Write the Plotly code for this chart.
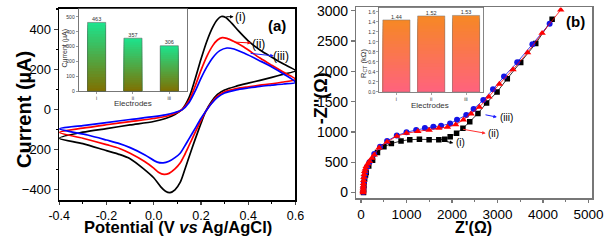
import plotly.graph_objects as go

# ---------------- Panel (a): cyclic voltammograms ----------------
V_i_fwd = [-0.4, -0.3, -0.2, -0.1, 0.0, 0.05, 0.09, 0.12, 0.15, 0.175, 0.2, 0.225, 0.25, 0.27, 0.286, 0.305, 0.33, 0.36, 0.4, 0.45, 0.5, 0.55, 0.6]
I_i_fwd = [-143, -113, -95, -77, -60, -45, -25, 0, 60, 150, 250, 340, 410, 448, 463, 458, 430, 390, 342, 296, 260, 226, 193]
V_i_rev = [0.55, 0.5, 0.45, 0.4, 0.35, 0.3, 0.27, 0.245, 0.22, 0.2, 0.175, 0.15, 0.13, 0.112, 0.09, 0.069, 0.05, 0.03, 0.0, -0.04, -0.1, -0.15, -0.2, -0.3, -0.4]
I_i_rev = [176, 160, 145, 131, 116, 97, 75, 40, -10, -70, -150, -235, -305, -363, -400, -414, -407, -385, -340, -298, -245, -222, -205, -170, -143]

V_ii_fwd = [-0.4, -0.3, -0.2, -0.1, 0.0, 0.05, 0.09, 0.12, 0.15, 0.175, 0.2, 0.225, 0.25, 0.27, 0.29, 0.31, 0.34, 0.38, 0.45, 0.5, 0.55, 0.6]
I_ii_fwd = [-114, -93, -76, -60, -45, -35, -20, 0, 45, 115, 195, 265, 318, 346, 358, 354, 338, 312, 256, 220, 185, 150]
V_ii_rev = [0.55, 0.5, 0.45, 0.4, 0.35, 0.3, 0.27, 0.245, 0.22, 0.2, 0.175, 0.15, 0.13, 0.112, 0.09, 0.065, 0.044, 0.02, 0.0, -0.04, -0.1, -0.145, -0.2, -0.3, -0.4]
I_ii_rev = [137, 128, 121, 113, 104, 88, 66, 33, -10, -55, -115, -178, -228, -267, -296, -318, -323, -312, -292, -258, -218, -194, -175, -143, -114]

V_iii_fwd = [-0.4, -0.3, -0.2, -0.1, 0.0, 0.05, 0.09, 0.12, 0.15, 0.175, 0.2, 0.225, 0.25, 0.28, 0.31, 0.34, 0.38, 0.45, 0.5, 0.55, 0.6]
I_iii_fwd = [-96, -80, -65, -50, -36, -27, -15, -2, 35, 90, 155, 212, 258, 293, 306, 301, 282, 242, 212, 177, 135]
V_iii_rev = [0.55, 0.5, 0.45, 0.4, 0.35, 0.3, 0.27, 0.245, 0.22, 0.2, 0.175, 0.15, 0.13, 0.112, 0.09, 0.065, 0.04, 0.015, -0.037, -0.1, -0.145, -0.2, -0.28, -0.4]
I_iii_rev = [127, 121, 115, 107, 98, 82, 60, 30, -10, -45, -95, -145, -185, -218, -240, -258, -266, -262, -226, -190, -170, -152, -127, -96]

# inset (a): peak currents
electrodes = ["i", "ii", "iii"]
peak_current = [463, 357, 306]

# ---------------- Panel (b): Nyquist plots ----------------
Zr_i = [55, 58, 64, 70, 80, 100, 114, 170, 255, 362, 504, 667, 880, 1072, 1284, 1497, 1710, 1840, 1960, 2100, 2240, 2390, 2570, 2760, 2990, 3215, 3510, 3840, 4200]
Zi_i = [0, 60, 117, 170, 223, 290, 330, 436, 532, 660, 755, 809, 851, 873, 878, 873, 873, 880, 920, 980, 1060, 1170, 1305, 1480, 1660, 1880, 2145, 2460, 2860]

Zr_iii = [50, 55, 62, 75, 95, 130, 185, 291, 419, 574, 787, 1000, 1213, 1404, 1590, 1760, 1958, 2110, 2313, 2475, 2688, 2901, 3143, 3433, 3767, 4145]
Zi_iii = [10, 80, 160, 250, 330, 420, 500, 638, 755, 851, 941, 995, 1032, 1064, 1085, 1101, 1138, 1200, 1280, 1378, 1527, 1703, 1915, 2150, 2447, 2788]

Zr_ii = [45, 46, 47, 49, 51, 54, 58, 63, 70, 80, 95, 114, 150, 185, 240, 291, 397, 574, 787, 1000, 1250, 1497, 1710, 1900, 2080, 2250, 2420, 2600, 2810, 3040, 3340, 3660, 3980, 4390]
Zi_ii = [0, 20, 45, 75, 110, 150, 200, 250, 300, 350, 390, 430, 475, 516, 570, 622, 739, 835, 931, 979, 1011, 1032, 1064, 1080, 1120, 1200, 1300, 1410, 1580, 1790, 2030, 2310, 2630, 3015]

# inset (b): charge-transfer resistance
rct = [1.44, 1.52, 1.53]
rct_labels = ["1.44", "1.52", "1.53"]

FONT = "Arial, Liberation Sans, sans-serif"
fig = go.Figure()

# CV curves
for V1, I1, V2, I2, col in [
    (V_i_fwd, I_i_fwd, V_i_rev, I_i_rev, "#000000"),
    (V_ii_fwd, I_ii_fwd, V_ii_rev, I_ii_rev, "#ff0000"),
    (V_iii_fwd, I_iii_fwd, V_iii_rev, I_iii_rev, "#0000ff"),
]:
    fig.add_trace(go.Scatter(x=V1 + V2, y=I1 + I2, mode="lines",
                             line=dict(color=col, width=1.7, shape="spline", smoothing=0.8),
                             xaxis="x", yaxis="y", showlegend=False, hoverinfo="skip"))

# Nyquist
for zr, zi, col, sym, sz in [
    (Zr_i, Zi_i, "#000000", "square", 5.5),
    (Zr_iii, Zi_iii, "#1414e6", "circle", 6),
    (Zr_ii, Zi_ii, "#ff0000", "triangle-up", 6.5),
]:
    fig.add_trace(go.Scatter(x=zr, y=zi, mode="lines+markers",
                             line=dict(color=col, width=0.8),
                             marker=dict(color=col, symbol=sym, size=sz, line=dict(width=0)),
                             xaxis="x2", yaxis="y2", showlegend=False, hoverinfo="skip"))

# gradient bars
def lerp(c1, c2, t):
    return "rgb(%d,%d,%d)" % tuple(round(a + (b - a) * t) for a, b in zip(c1, c2))

N = 24
a_top, a_bot = (28, 228, 142), (128, 112, 0)
b_top, b_bot = (246, 136, 36), (255, 98, 126)
for k in range(N, 0, -1):
    t = (k - 0.5) / N
    fig.add_trace(go.Bar(x=electrodes, y=[v * k / N for v in peak_current], width=0.5,
                         marker=dict(color=lerp(a_bot, a_top, t), line=dict(width=0)),
                         xaxis="x3", yaxis="y3", showlegend=False, hoverinfo="skip"))
    fig.add_trace(go.Bar(x=electrodes, y=[v * k / N for v in rct], width=0.78,
                         marker=dict(color=lerp(b_bot, b_top, t), line=dict(width=0)),
                         xaxis="x4", yaxis="y4", showlegend=False, hoverinfo="skip"))
fig.add_trace(go.Bar(x=electrodes, y=peak_current, width=0.5,
                     marker=dict(color="rgba(0,0,0,0)", line=dict(width=0.5, color="#555")),
                     xaxis="x3", yaxis="y3", showlegend=False, hoverinfo="skip"))
fig.add_trace(go.Bar(x=electrodes, y=rct, width=0.78,
                     marker=dict(color="rgba(0,0,0,0)", line=dict(width=0.5, color="#777")),
                     xaxis="x4", yaxis="y4", showlegend=False, hoverinfo="skip"))
fig.add_trace(go.Scatter(x=electrodes, y=peak_current, mode="text", text=[str(v) for v in peak_current],
                         textposition="top center", textfont=dict(size=5.5, color="#333", family=FONT),
                         xaxis="x3", yaxis="y3", showlegend=False, hoverinfo="skip"))
fig.add_trace(go.Scatter(x=electrodes, y=rct, mode="text", text=rct_labels,
                         textposition="top center", textfont=dict(size=5.5, color="#333", family=FONT),
                         xaxis="x4", yaxis="y4", showlegend=False, hoverinfo="skip"))

W, H = 614, 240
def px(xp): return xp / W
def py(yp): return (H - yp) / H

def main_ax(fs, tl=4):
    return dict(showgrid=False, zeroline=False, ticks="outside", ticklen=tl, tickwidth=1.2,
                ticklabeloverflow="allow",
                tickfont=dict(size=fs, family=FONT, color="#000"), mirror=True)

fig.update_layout(
    width=W, height=H, margin=dict(l=0, r=0, t=0, b=0),
    paper_bgcolor="white", plot_bgcolor="white", barmode="overlay",
    font=dict(family=FONT, color="#000"),
    xaxis=dict(domain=[px(50), px(295)], range=[-0.4, 0.6], anchor="y",
               tickvals=[-0.4, -0.2, 0.0, 0.2, 0.4, 0.6], ticktext=["-0.4", "-0.2", "0.0", "0.2", "0.4", "0.6"],
               minor=dict(dtick=0.1, ticks="outside", ticklen=2, tickcolor="#000"),
               linecolor="#000", linewidth=1.5, **main_ax(12.5, 3)),
    yaxis=dict(domain=[py(202), py(4)], range=[-452, 501], anchor="x",
               tickvals=[-400, -200, 0, 200, 400],
               minor=dict(dtick=100, ticks="outside", ticklen=2, tickcolor="#000"),
               linecolor="#000", linewidth=1.5, **main_ax(13)),
    xaxis2=dict(domain=[px(358), px(603)], range=[-106, 5085], anchor="y2",
                tickvals=[0, 1000, 2000, 3000, 4000, 5000],
                minor=dict(dtick=500, ticks="outside", ticklen=2, tickcolor="#777"),
                linecolor="#777", linewidth=1.3, tickcolor="#777", **main_ax(13.5, 3)),
    yaxis2=dict(domain=[py(200), py(2.5)], range=[-96, 3056], anchor="x2",
                tickvals=[0, 500, 1000, 1500, 2000, 2500, 3000],
                linecolor="#777", linewidth=1.3, tickcolor="#777", **main_ax(14)),
    xaxis3=dict(domain=[px(70), px(183)], range=[-0.5, 2.5], anchor="y3", type="category",
                showgrid=False, ticks="outside", ticklen=2, tickwidth=0.6, tickcolor="#555",
                linecolor="#555", linewidth=0.8, mirror=True,
                tickfont=dict(size=5, family=FONT, color="#333")),
    yaxis3=dict(domain=[py(89.3), py(4)], range=[0, 554], anchor="x3",
                showgrid=False, zeroline=False, ticks="outside", ticklen=2, tickwidth=0.6, tickcolor="#555",
                tickvals=[0, 100, 200, 300, 400, 500],
                linecolor="#555", linewidth=0.8, mirror=True,
                tickfont=dict(size=5, family=FONT, color="#333")),
    xaxis4=dict(domain=[px(381.7), px(490)], range=[-0.5, 2.5], anchor="y4", type="category",
                showgrid=False, ticks="outside", ticklen=2, tickwidth=0.6, tickcolor="#666",
                linecolor="#666", linewidth=0.8, mirror=True,
                tickfont=dict(size=5, family=FONT, color="#333")),
    yaxis4=dict(domain=[py(90), py(2.5)], range=[0, 1.69], anchor="x4",
                showgrid=False, zeroline=False, ticks="outside", ticklen=2, tickwidth=0.6, tickcolor="#666",
                tickvals=[0, 0.2, 0.4, 0.6, 0.8, 1.0, 1.2, 1.4, 1.6], tickformat=".1f",
                linecolor="#666", linewidth=0.8, mirror=True,
                tickfont=dict(size=5, family=FONT, color="#333")),
)

ann = []
def txt(x, y, s, size, ref="paper", xr=None, yr=None, angle=0, color="#000"):
    d = dict(x=x, y=y, text=s, showarrow=False, textangle=angle,
             font=dict(size=size, family=FONT, color=color), xanchor="center", yanchor="middle")
    if ref == "paper":
        d.update(xref="paper", yref="paper")
    else:
        d.update(xref=xr, yref=yr)
    ann.append(d)

def arrow(x0, y0, x1, y1, xr, yr, col):
    ann.append(dict(x=x1, y=y1, ax=x0, ay=y0, xref=xr, yref=yr, axref=xr, ayref=yr, text="",
                    showarrow=True, arrowhead=2, arrowsize=0.7, arrowwidth=1, arrowcolor=col))

# main titles
txt(px(14), py(108), "<b>Current (µA)</b>", 20, angle=-90)
txt(px(173), py(230), "<b>Potential (V <i>vs</i> Ag/AgCl)</b>", 16.5)
txt(px(321), py(96), "<b>-Z''(Ω)</b>", 18, angle=-90)
txt(px(480), py(230), "<b>Z'(Ω)</b>", 16)
txt(px(275.5), py(21), "<b>(a)</b>", 15)
txt(px(585), py(17), "<b>(b)</b>", 15)

# inset titles
txt(px(55), py(45), "Current (µA)", 7, angle=-90, color="#333")
txt(px(126.5), py(102), "Electrodes", 8, color="#333")
txt(px(366), py(60), "R<sub>CT</sub> (kΩ)", 7.5, angle=-90, color="#333")
txt(px(435), py(104), "Electrodes", 8, color="#333")

# labels panel (a)
arrow(0.301, 462, 0.338, 462, "x", "y", "#000")
txt(0.366, 462, "(i)", 12, ref="data", xr="x", yr="y")
arrow(0.336, 336, 0.412, 331, "x", "y", "#ff0000")
txt(0.443, 328, "(ii)", 12, ref="data", xr="x", yr="y")
arrow(0.404, 280, 0.508, 267, "x", "y", "#1a1aff")
txt(0.541, 267, "(iii)", 12, ref="data", xr="x", yr="y")

# labels panel (b)
arrow(1815, 851, 2028, 819, "x2", "y2", "#000")
txt(2190, 819, "(i)", 10, ref="data", xr="x2", yr="y2")
arrow(2207, 1049, 2739, 978, "x2", "y2", "#ff3030")
txt(2915, 969, "(ii)", 10, ref="data", xr="x2", yr="y2")
arrow(2703, 1288, 2986, 1245, "x2", "y2", "#1a1aff")
txt(3190, 1234, "(iii)", 10, ref="data", xr="x2", yr="y2")

fig.update_layout(annotations=ann)
fig.write_html("out.html", config={"displayModeBar": False, "staticPlot": True},
               post_script="document.body.style.margin='0';document.body.style.overflow='hidden';")
